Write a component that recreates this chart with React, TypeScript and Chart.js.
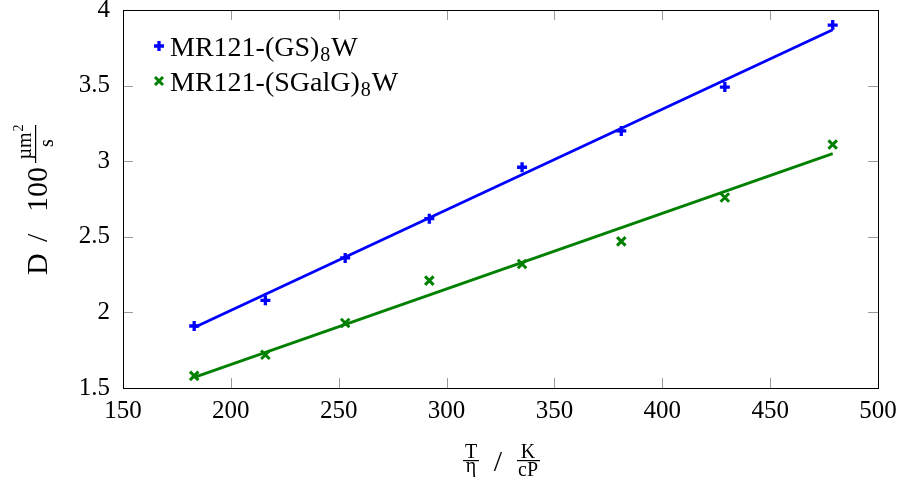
import { useEffect, useRef } from "react";
import { Chart, registerables } from "chart.js";

Chart.register(...registerables);

const xValues = [183, 216, 253, 292, 335, 381, 429, 479];
const gsValues = [1.91, 2.08, 2.36, 2.62, 2.96, 3.2, 3.49, 3.9];
const sgalgValues = [1.58, 1.72, 1.93, 2.21, 2.32, 2.47, 2.76, 3.11];
const fitX = [183, 479];
const gsFit = [1.9, 3.87];
const sgalgFit = [1.57, 3.05];
const xTicks = [150, 200, 250, 300, 350, 400, 450, 500];
const yTicks = [1.5, 2, 2.5, 3, 3.5, 4];
const yTickLabels = ["1.5", "2", "2.5", "3", "3.5", "4"];
const legendLabels = [
  ["MR121-(GS)", "8", "W"],
  ["MR121-(SGalG)", "8", "W"],
];

const BLUE = "#0000ff";
const GREEN = "#008000";
const SERIF = "'Liberation Serif', 'DejaVu Serif', serif";

const pts = (xs: number[], ys: number[]) => xs.map((x, i) => ({ x, y: ys[i] }));

function drawPlus(ctx: CanvasRenderingContext2D, x: number, y: number, r: number, color: string, w: number) {
  ctx.save();
  ctx.strokeStyle = color;
  ctx.lineWidth = w;
  ctx.beginPath();
  ctx.moveTo(x - r, y);
  ctx.lineTo(x + r, y);
  ctx.moveTo(x, y - r);
  ctx.lineTo(x, y + r);
  ctx.stroke();
  ctx.restore();
}

function drawX(ctx: CanvasRenderingContext2D, x: number, y: number, r: number, color: string, w: number) {
  ctx.save();
  ctx.strokeStyle = color;
  ctx.lineWidth = w;
  ctx.beginPath();
  ctx.moveTo(x - r, y - r);
  ctx.lineTo(x + r, y + r);
  ctx.moveTo(x - r, y + r);
  ctx.lineTo(x + r, y - r);
  ctx.stroke();
  ctx.restore();
}

const framePlugin = {
  id: "frame",
  afterDatasetsDraw(chart: any) {
    const ctx: CanvasRenderingContext2D = chart.ctx;
    const { left, right, top, bottom } = chart.chartArea;
    const xs = chart.scales.x;
    const ys = chart.scales.y;
    ctx.save();
    ctx.strokeStyle = "#9a9a9a";
    ctx.lineWidth = 1;
    ctx.beginPath();
    for (const v of xTicks) {
      const px = Math.round(xs.getPixelForValue(v)) + 0.5;
      ctx.moveTo(px, bottom);
      ctx.lineTo(px, bottom - 10);
      ctx.moveTo(px, top);
      ctx.lineTo(px, top + 10);
    }
    for (const v of yTicks) {
      const py = Math.round(ys.getPixelForValue(v)) + 0.5;
      ctx.moveTo(left, py);
      ctx.lineTo(left + 10, py);
      ctx.moveTo(right, py);
      ctx.lineTo(right - 10, py);
    }
    ctx.stroke();
    ctx.strokeStyle = "#000";
    ctx.lineWidth = 1;
    ctx.strokeRect(Math.round(left) + 0.5, Math.round(top) + 0.5, Math.round(right - left), Math.round(bottom - top));
    ctx.restore();
  },
  afterDraw(chart: any) {
    const ctx: CanvasRenderingContext2D = chart.ctx;
    ctx.save();
    ctx.fillStyle = "#000";
    // Legend
    const markers = [
      (y: number) => drawPlus(ctx, 159, y, 5, BLUE, 3.3),
      (y: number) => drawX(ctx, 159, y, 4, GREEN, 3),
    ];
    const rowY = [46, 81];
    legendLabels.forEach((parts, i) => {
      const cy = rowY[i];
      markers[i](cy);
      const base = cy + 10;
      let x = 170;
      ctx.textBaseline = "alphabetic";
      ctx.textAlign = "left";
      ctx.font = `28px ${SERIF}`;
      ctx.fillText(parts[0], x, base);
      x += ctx.measureText(parts[0]).width;
      ctx.font = `20px ${SERIF}`;
      ctx.fillText(parts[1], x + 1, base + 5);
      x += ctx.measureText(parts[1]).width + 2;
      ctx.font = `28px ${SERIF}`;
      ctx.fillText(parts[2], x, base);
    });

    // X axis title: T/η / K/cP
    ctx.textAlign = "center";
    ctx.font = `20px ${SERIF}`;
    ctx.fillText("T", 471, 458);
    ctx.fillText("η", 471, 472);
    ctx.fillText("K", 528, 458);
    ctx.fillText("cP", 528, 476);
    ctx.fillRect(463, 460, 16, 1.2);
    ctx.fillRect(517, 460, 23, 1.2);
    ctx.font = `30px ${SERIF}`;
    ctx.fillText("/", 498, 471);

    // Y axis title: D / 100 µm²/s (rotated)
    ctx.save();
    ctx.translate(47, 275);
    ctx.rotate(-Math.PI / 2);
    ctx.textAlign = "left";
    ctx.font = `30px ${SERIF}`;
    ctx.fillText("D", 0, 0);
    ctx.fillText("/", 33, 0);
    ctx.fillText("100", 63, 0);
    ctx.font = `20px ${SERIF}`;
    ctx.textAlign = "center";
    ctx.fillText("µm", 129, -16);
    ctx.font = `14px ${SERIF}`;
    ctx.fillText("2", 147, -24);
    ctx.font = `20px ${SERIF}`;
    ctx.fillText("s", 132, 6);
    ctx.fillRect(112, -12, 38, 1.2);
    ctx.restore();

    ctx.restore();
  },
};

export default function App() {
  const ref = useRef<HTMLCanvasElement | null>(null);
  useEffect(() => {
    if (!ref.current) return;
    const chart = new Chart(ref.current, {
      type: "scatter",
      data: {
        datasets: [
          {
            label: "MR121-(GS)8W",
            data: pts(xValues, gsValues),
            pointStyle: "cross",
            pointRadius: 5,
            pointBorderWidth: 3.3,
            borderColor: BLUE,
            backgroundColor: BLUE,
            showLine: false,
            order: 0,
          },
          {
            label: "MR121-(SGalG)8W",
            data: pts(xValues, sgalgValues),
            pointStyle: "crossRot",
            pointRadius: 6,
            pointBorderWidth: 3,
            borderColor: GREEN,
            backgroundColor: GREEN,
            showLine: false,
            order: 0,
          },
          {
            label: "fit GS",
            data: pts(fitX, gsFit),
            showLine: true,
            pointRadius: 0,
            borderColor: BLUE,
            borderWidth: 2.8,
            order: 1,
          },
          {
            label: "fit SGalG",
            data: pts(fitX, sgalgFit),
            showLine: true,
            pointRadius: 0,
            borderColor: GREEN,
            borderWidth: 2.8,
            order: 1,
          },
        ],
      },
      options: {
        animation: false,
        responsive: false,
        layout: { padding: { top: 10, right: 30, left: 0, bottom: 0 } },
        plugins: { legend: { display: false }, tooltip: { enabled: false } },
        scales: {
          x: {
            type: "linear",
            min: 150,
            max: 500,
            afterBuildTicks: (s: any) => {
              s.ticks = xTicks.map((v) => ({ value: v }));
            },
            afterFit: (s: any) => {
              s.height = 96;
              s.paddingLeft = 0;
              s.paddingRight = 0;
            },
            grid: { display: false },
            border: { display: false },
            ticks: {
              color: "#000",
              padding: 0,
              maxRotation: 0,
              font: { family: SERIF, size: 25 },
            },
          },
          y: {
            type: "linear",
            min: 1.5,
            max: 4,
            afterBuildTicks: (s: any) => {
              s.ticks = yTicks.map((v) => ({ value: v }));
            },
            afterFit: (s: any) => {
              s.width = 123;
              s.paddingTop = 0;
              s.paddingBottom = 0;
            },
            grid: { display: false },
            border: { display: false },
            ticks: {
              color: "#000",
              padding: 5,
              font: { family: SERIF, size: 25 },
              callback: (v: any) => {
                const i = yTicks.indexOf(Number(v));
                return i >= 0 ? yTickLabels[i] : String(v);
              },
            },
          },
        },
      },
      plugins: [framePlugin],
    } as any);
    return () => chart.destroy();
  }, []);
  return (
    <div style={{ position: "fixed", left: 0, top: 0, width: 908, height: 484, background: "#fff" }}>
      <canvas ref={ref} width={908} height={484} style={{ width: 908, height: 484, display: "block" }} />
    </div>
  );
}
